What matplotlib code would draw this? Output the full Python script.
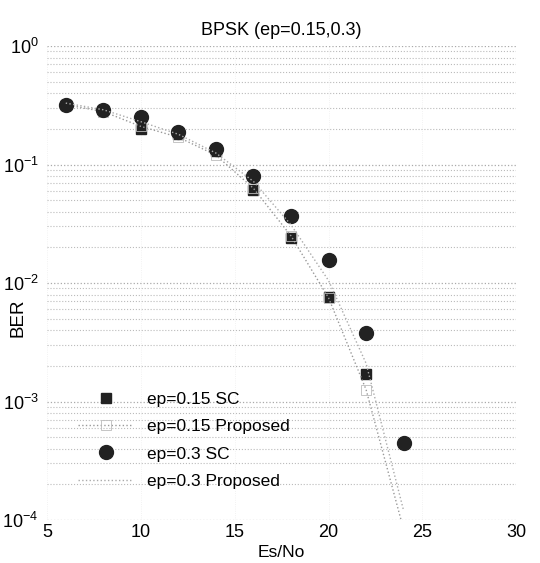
import numpy as np
import matplotlib
matplotlib.use('Agg')
import matplotlib.pyplot as plt
from matplotlib.ticker import LogLocator, NullFormatter

# Es/No axis (dB)
es_no = [6, 8, 10, 12, 14, 16, 18, 20, 22, 24]

# BER values
ber_015_sc = [0.32, 0.29, 0.20, 0.18, 0.13, 0.061, 0.024, 0.0076, 0.0017, 0.00008]
ber_015_prop = [0.32, 0.28, 0.21, 0.17, 0.12, 0.063, 0.025, 0.0075, 0.00126, 0.000083]
ber_03_sc = [0.32, 0.29, 0.25, 0.19, 0.135, 0.08, 0.037, 0.0155, 0.0038, 0.00045]
ber_03_prop = [0.33, 0.29, 0.23, 0.18, 0.125, 0.072, 0.031, 0.0105, 0.0021, 0.00012]

title = 'BPSK (ep=0.15,0.3)'
labels = ['ep=0.15 SC', 'ep=0.15 Proposed', 'ep=0.3 SC', 'ep=0.3 Proposed']

plt.rcParams['font.family'] = ['Liberation Sans', 'DejaVu Sans']

fig = plt.figure(figsize=(5.40, 5.63), dpi=100)
ax = fig.add_axes([0.087, 0.0764, 0.869, 0.8418])

ax.semilogy(es_no, ber_015_sc, linestyle='none', marker='s', markersize=7,
            color='#222222', label=labels[0])
ax.semilogy(es_no, ber_015_prop, linestyle=':', linewidth=1.0, color='#999999',
            marker='s', markersize=7, markerfacecolor='none',
            markeredgecolor='#bbbbbb', markeredgewidth=0.6, label=labels[1])
ax.semilogy(es_no, ber_03_sc, linestyle='none', marker='o', markersize=10,
            color='#222222', label=labels[2])
ax.semilogy(es_no, ber_03_prop, linestyle=':', linewidth=1.0, color='#aaaaaa',
            label=labels[3])

ax.set_xlim(5, 30)
ax.set_ylim(1e-4, 1e0)
ax.set_xticks([5, 10, 15, 20, 25, 30])
ax.yaxis.set_major_locator(LogLocator(base=10, numticks=10))
ax.yaxis.set_minor_locator(LogLocator(base=10, subs=np.arange(2, 10), numticks=10))
ax.yaxis.set_minor_formatter(NullFormatter())

# faint dotted grid like the scanned MATLAB plot
ax.grid(True, which='major', axis='y', linestyle=':', color='#aaaaaa', linewidth=0.9)
ax.grid(True, which='minor', axis='y', linestyle=':', color='#bbbbbb', linewidth=0.8)
ax.grid(True, which='major', axis='x', linestyle=':', color='#eeeeee', linewidth=0.6)

for s in ax.spines.values():
    s.set_visible(False)
ax.tick_params(which='both', length=0, labelsize=13, pad=6)
ax.tick_params(axis='x', pad=3)

ax.set_title(title, fontsize=13, pad=8)
ax.set_xlabel('Es/No', fontsize=12.5)
ax.set_ylabel('BER', fontsize=13.5)
ax.xaxis.set_label_coords(0.5, -0.053)
ax.yaxis.set_label_coords(-0.043, 0.426)

leg = ax.legend(loc='lower left', bbox_to_anchor=(0.04, 0.04), frameon=False,
                fontsize=12.5, handlelength=3.2, labelspacing=0.7, borderaxespad=0.3)

fig.savefig('out.png', dpi=100)
